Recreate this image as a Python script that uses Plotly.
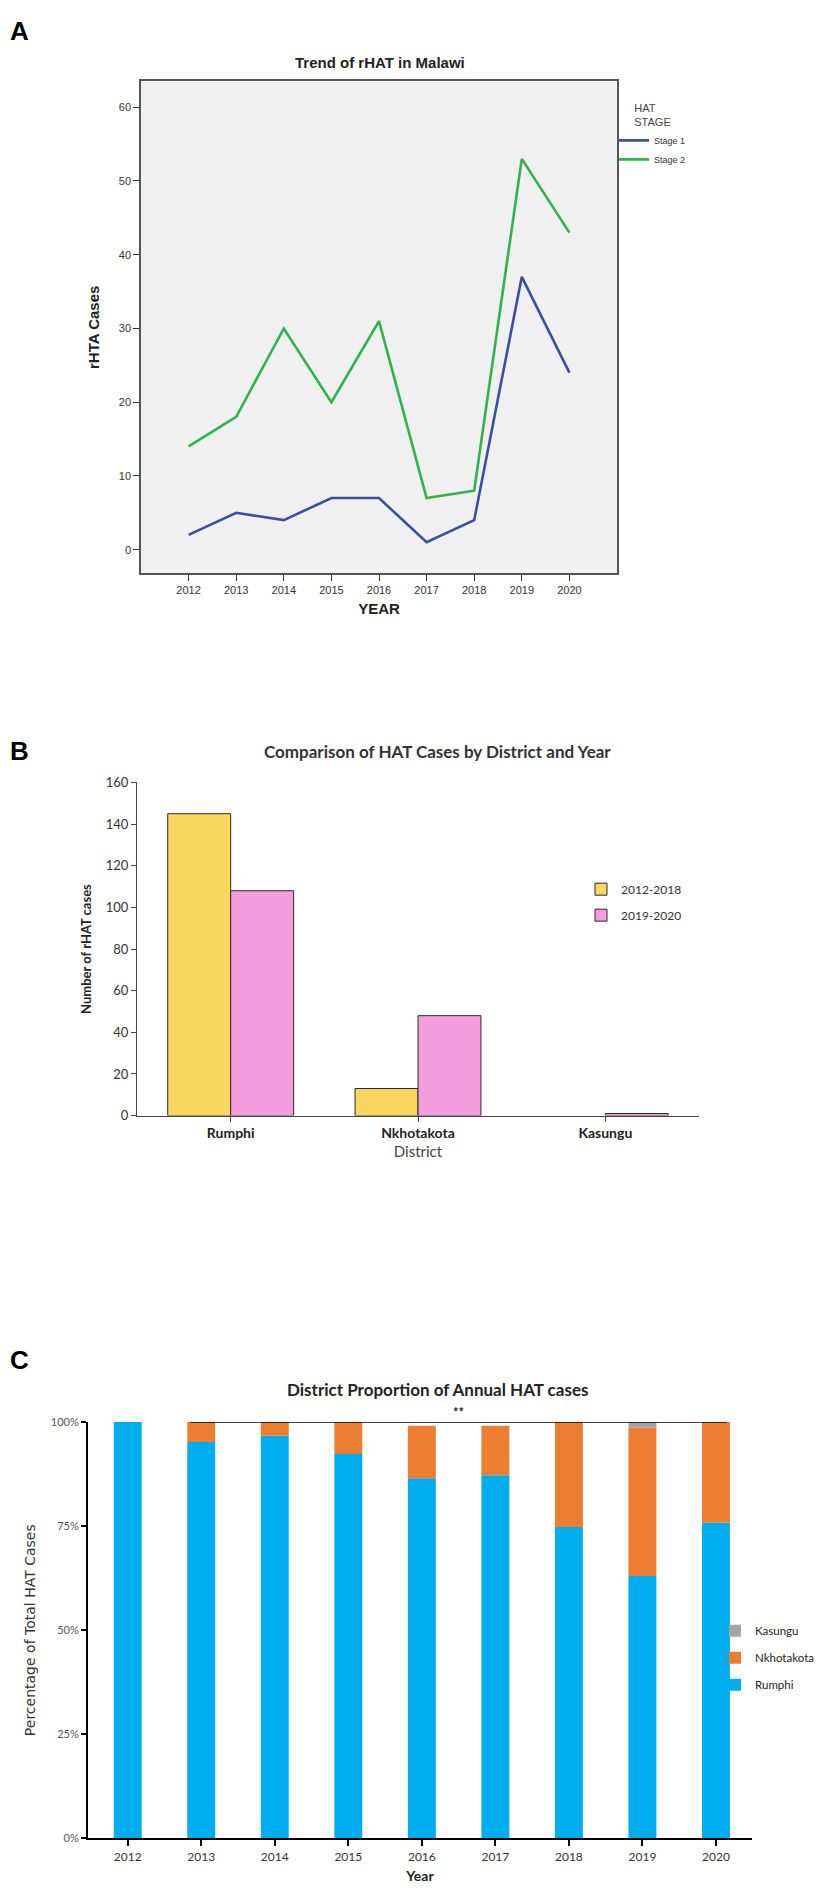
import plotly.graph_objects as go

# ── Data ──────────────────────────────────────────────────────────────────────
years = [2012, 2013, 2014, 2015, 2016, 2017, 2018, 2019, 2020]
stage1 = [2, 5, 4, 7, 7, 1, 4, 37, 24]
stage2 = [14, 18, 30, 20, 31, 7, 8, 53, 43]

districts = ['Rumphi', 'Nkhotakota', 'Kasungu']
cases_2012_2018 = [145, 13, 0]
cases_2019_2020 = [108, 48, 1]

year_labels = [str(y) for y in years]
pct_rumphi = [100, 95.2, 96.7, 92.3, 86.5, 87.2, 74.8, 63.0, 75.8]
pct_nkhotakota = [0, 4.8, 3.3, 7.7, 12.6, 11.9, 25.2, 35.6, 24.2]
pct_kasungu = [0, 0, 0, 0, 0, 0, 0, 1.4, 0]
pct_ticks = [0, 25, 50, 75, 100]

W, H = 835, 1888


def py(px):
    # pixel row -> paper y
    return 1 - px / H


def pxx(px):
    return px / W


arial = 'Liberation Sans, Arial, sans-serif'
calibri = 'Lato, Open Sans, sans-serif'

# stacking bases for panel C
base_nk = pct_rumphi
base_ka = [r + n for r, n in zip(pct_rumphi, pct_nkhotakota)]

fig = go.Figure()

# ── Panel A: line chart ───────────────────────────────────────────────────────
fig.add_trace(go.Scatter(x=years, y=stage1, mode='lines', name='Stage 1',
                         line=dict(color='#3b4fa0', width=2.6),
                         xaxis='x', yaxis='y', legend='legend'))
fig.add_trace(go.Scatter(x=years, y=stage2, mode='lines', name='Stage 2',
                         line=dict(color='#2fb34a', width=2.6),
                         xaxis='x', yaxis='y', legend='legend'))

# ── Panel B: side-by-side bars ────────────────────────────────────────────────
fig.add_trace(go.Bar(x=districts, y=cases_2012_2018, name='2012-2018',
                     width=0.336, offset=-0.336,
                     marker=dict(color='#f9d65e',
                                 line=dict(color='#2a2a2a', width=[1, 1, 0])),
                     xaxis='x2', yaxis='y2', legend='legend2', legendgroup='b1'))
fig.add_trace(go.Bar(x=districts, y=cases_2019_2020, name='2019-2020',
                     width=0.336, offset=0,
                     marker=dict(color='#f39ddf', line=dict(color='#2a2a2a', width=1)),
                     xaxis='x2', yaxis='y2', legend='legend2', legendgroup='b2'))

# ── Panel C: stacked proportion bars ─────────────────────────────────────────
fig.add_trace(go.Bar(x=year_labels, y=pct_rumphi, name='Rumphi',
                     width=0.38, offset=-0.19, legendrank=3,
                     marker=dict(color='#00aeef', line=dict(width=0)),
                     xaxis='x3', yaxis='y3', legend='legend3', legendgroup='c1'))
fig.add_trace(go.Bar(x=year_labels, y=pct_nkhotakota, base=base_nk, name='Nkhotakota',
                     width=0.38, offset=-0.19, legendrank=2,
                     marker=dict(color='#ed7d31', line=dict(width=0)),
                     xaxis='x3', yaxis='y3', legend='legend3', legendgroup='c2'))
fig.add_trace(go.Bar(x=year_labels, y=pct_kasungu, base=base_ka, name='Kasungu',
                     width=0.38, offset=-0.19, legendrank=1,
                     marker=dict(color='#a5a5a5', line=dict(width=0)),
                     xaxis='x3', yaxis='y3', legend='legend3', legendgroup='c3'))

fig.update_layout(
    width=W, height=H,
    margin=dict(l=0, r=0, t=0, b=0),
    paper_bgcolor='white', plot_bgcolor='white',
    barmode='overlay',
    font=dict(family=arial, color='#222'),
    showlegend=True,
    # A axes
    xaxis=dict(domain=[pxx(133), pxx(609)], anchor='y', range=[2011, 2021],
               tickvals=years, ticks='outside', ticklen=6, tickcolor='#333',
               tickwidth=1.2, showgrid=False, zeroline=False, showline=True,
               linecolor='#555', linewidth=1.5, mirror=True,
               tickfont=dict(size=11, family=arial, color='#333'),
               title=dict(text='<b>YEAR</b>', font=dict(size=15, family=arial),
                          standoff=8)),
    yaxis=dict(domain=[py(562), py(66)], anchor='x', range=[-3.2, 63.5],
               tickvals=[0, 10, 20, 30, 40, 50, 60], ticks='outside', ticklen=6,
               tickcolor='#333', tickwidth=1.2, showgrid=False, zeroline=False,
               showline=True, linecolor='#555', linewidth=1.5, mirror=True,
               tickfont=dict(size=11, family=arial, color='#333'),
               title=dict(text='<b>rHTA Cases</b>', font=dict(size=15, family=arial),
                          standoff=16)),
    # B axes
    xaxis2=dict(domain=[pxx(129), pxx(691)], anchor='y2', range=[-0.5, 2.5],
                showgrid=False, zeroline=False, showline=True, linecolor='#444',
                linewidth=1, ticks='outside', ticklen=5, tickcolor='#444',
                tickfont=dict(size=14, family=calibri, color='#222'),
                ticktext=['<b>%s</b>' % d for d in districts], tickvals=districts,
                title=dict(text='District', font=dict(size=15, family=calibri,
                                                      color='#444'),
                           standoff=6)),
    yaxis2=dict(domain=[py(1109), py(773)], anchor='x2', range=[0, 160], dtick=20,
                ticks='outside', ticklen=5, tickcolor='#444', showgrid=False,
                zeroline=False, showline=True, linecolor='#444', linewidth=1,
                tickfont=dict(size=13, family=calibri, color='#333'),
                title=dict(text='<b>Number of rHAT cases</b>',
                           font=dict(size=13, family=calibri, color='#222'),
                           standoff=11)),
    # C axes
    xaxis3=dict(domain=[pxx(80), pxx(744)], anchor='y3', range=[-0.54, 8.49],
                ticks='outside', ticklen=6, tickcolor='black', tickwidth=1.5,
                showgrid=False, zeroline=False, showline=True, linecolor='black',
                linewidth=2,
                tickfont=dict(size=12, family=calibri, color='#333'),
                title=dict(text='<b>Year</b>', font=dict(size=14, family=calibri),
                           standoff=8)),
    yaxis3=dict(domain=[py(1838), py(1418)], anchor='x3', range=[0, 100],
                tickmode='array', tickvals=pct_ticks,
                ticktext=['%d%%' % t for t in pct_ticks], ticks='outside',
                ticklen=5, tickcolor='black', tickwidth=1.5, showgrid=False,
                zeroline=False, showline=True, linecolor='black', linewidth=2,
                tickfont=dict(size=11, family=calibri, color='#555'),
                title=dict(text='Percentage of Total HAT Cases',
                           font=dict(size=14, family='DejaVu Sans', color='#333'),
                           standoff=12)),
    legend=dict(x=pxx(606), y=py(82), xanchor='left', yanchor='top',
                title=dict(text='HAT<br>STAGE', font=dict(size=11, family=arial,
                                                           color='#444'),
                           side='top center'),
                font=dict(size=9, family=arial, color='#333'),
                bgcolor='rgba(0,0,0,0)', itemwidth=30, tracegroupgap=0),
    legend2=dict(x=pxx(573), y=py(866), xanchor='left', yanchor='top',
                 font=dict(size=12, family=calibri, color='#333'),
                 bgcolor='rgba(0,0,0,0)', tracegroupgap=7, itemwidth=30),
    legend3=dict(x=pxx(707), y=py(1614), xanchor='left', yanchor='top',
                 font=dict(size=11.5, family=calibri, color='#222'),
                 bgcolor='rgba(0,0,0,0)', traceorder='grouped',
                 tracegroupgap=8, itemwidth=30),
)

fig.update_layout(shapes=[
    # grey plot background of panel A
    dict(type='rect', xref='x domain', yref='y domain', x0=0, x1=1, y0=0, y1=1,
         fillcolor='#f0f0f0', line=dict(width=0), layer='below'),
    # significance line of panel C
    dict(type='line', xref='x3', yref='y3', x0=0.85, x1=8.15, y0=100, y1=100,
         line=dict(color='black', width=1.5)),
])

fig.update_layout(annotations=[
    dict(text='<b>A</b>', x=0, y=py(15), xref='paper', yref='paper',
         xanchor='left', yanchor='middle', showarrow=False,
         font=dict(size=26, family=arial, color='black')),
    dict(text='<b>Trend of rHAT in Malawi</b>', x=pxx(372), y=py(47),
         xref='paper', yref='paper', yanchor='middle', showarrow=False,
         font=dict(size=15, family=arial, color='#222')),
    dict(text='<b>B</b>', x=0, y=py(741), xref='paper', yref='paper',
         xanchor='left', yanchor='middle', showarrow=False,
         font=dict(size=26, family=arial, color='black')),
    dict(text='<b>Comparison of HAT Cases by District and Year</b>', x=pxx(429),
         y=py(742), xref='paper', yref='paper', yanchor='middle', showarrow=False,
         font=dict(size=17, family=calibri, color='#333')),
    dict(text='<b>C</b>', x=0, y=py(1355), xref='paper', yref='paper',
         xanchor='left', yanchor='middle', showarrow=False,
         font=dict(size=26, family=arial, color='black')),
    dict(text='<b>District Proportion of Annual HAT cases</b>', x=pxx(429),
         y=py(1385), xref='paper', yref='paper', yanchor='middle', showarrow=False,
         font=dict(size=17, family=calibri, color='#222')),
    dict(text='<b>**</b>', x=4.5, y=100, xref='x3', yref='y3', yanchor='bottom',
         showarrow=False, font=dict(size=13, family=calibri, color='#222')),
])

fig.write_html("out.html")
